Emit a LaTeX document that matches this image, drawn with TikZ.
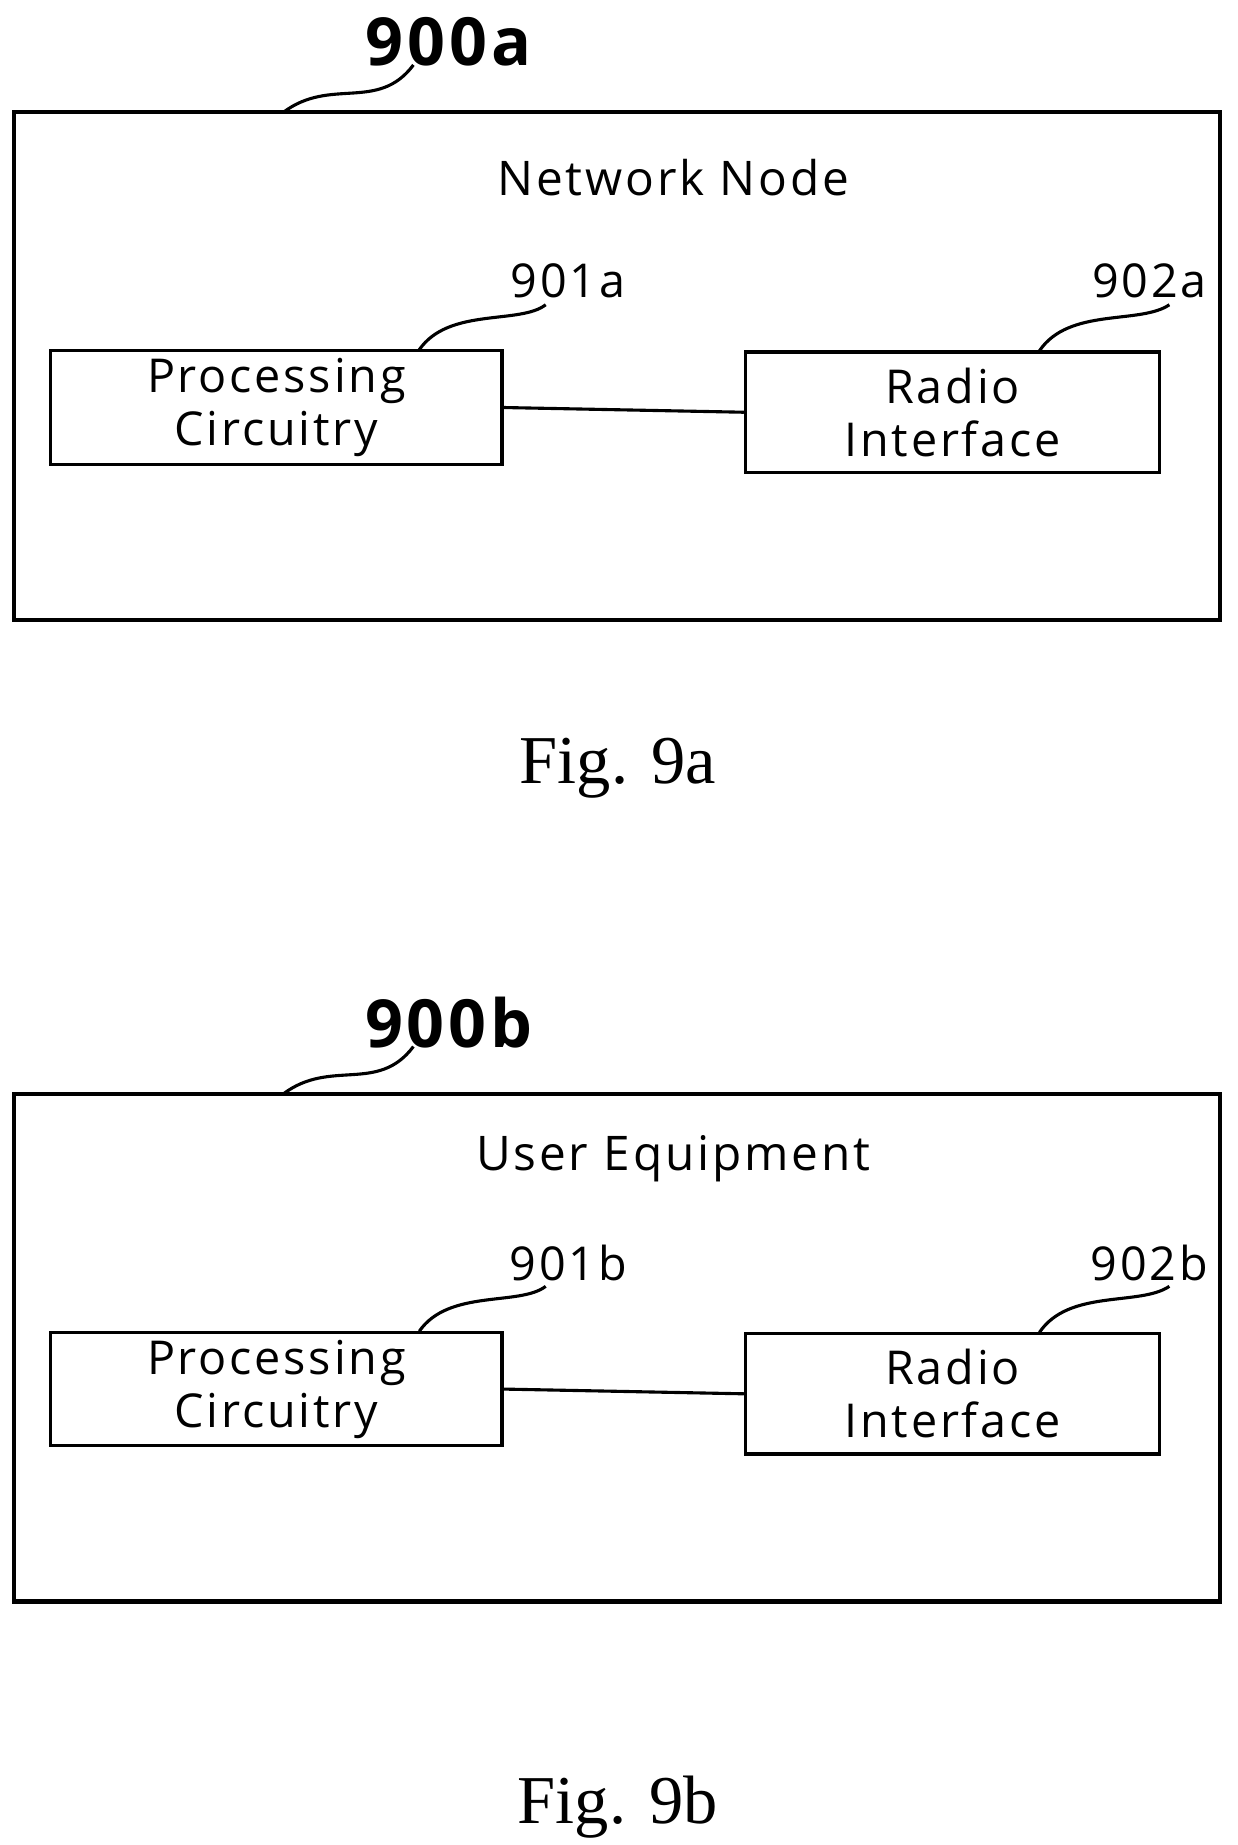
\documentclass[tikz,border=0pt]{standalone}
\usepackage{fontspec}
\setmainfont{Liberation Serif}
\newfontfamily\lab[LetterSpace=6]{Open Sans}
\begin{document}
\begin{tikzpicture}[x=0.02cm,y=-0.02cm,
 box/.style={draw,line width=2.2pt,inner sep=0},
 sub/.style={draw,line width=1.5pt,inner sep=0,align=center,font=\lab\fontsize{22.5}{25.5}\selectfont},
 num/.style={font=\lab\fontsize{22.5}{24}\selectfont},
 big/.style={font=\lab\bfseries\fontsize{32}{34}\selectfont},
 sq/.style={line width=1.5pt},
 fig/.style={font=\fontsize{33}{36}\selectfont}]
\useasboundingbox (0,0) rectangle (1048,1562);
\newcommand\panel[5]{%
\begin{scope}[yshift=#1*-0.02cm]
\draw[box] (12,95) rectangle (1033,525);
\coordinate (o#2) at (240,95);
\node[big] (l0#2) at (380,35) {900#2};
\draw[sq] (o#2) .. controls (280,65) and (320,95) .. (350,55);
\node[font=\lab\fontsize{23}{26}\selectfont] (t#2) at (570,150) {#3};
\node[sub,minimum width=382*0.02cm,minimum height=96*0.02cm] (p#2) at (234,345) {Processing\\Circuitry};
\node[sub,minimum width=351*0.02cm,minimum height=102*0.02cm] (r#2) at (806.5,349) {Radio\\Interface};
\draw[line width=1.5pt] (p#2.east) -- (r#2.west);
\node[num] (l1#2) at (481,238) {901#2};
\node[num] (l2#2) at (973,238) {902#2};
\coordinate (a#2) at (355,296);
\coordinate (b#2) at (880,297);
\draw[sq] (a#2) .. controls (380,260) and (440,275) .. (462,258);
\draw[sq] (b#2) .. controls (905,260) and (965,275) .. (990,258);
\end{scope}
\node[fig] (f#2) at (523,#4) {Fig. 9#2};}
\panel{0}{a}{Network Node}{650}{}
\panel{831}{b}{User Equipment}{1530}{}
\end{tikzpicture}
\end{document}
